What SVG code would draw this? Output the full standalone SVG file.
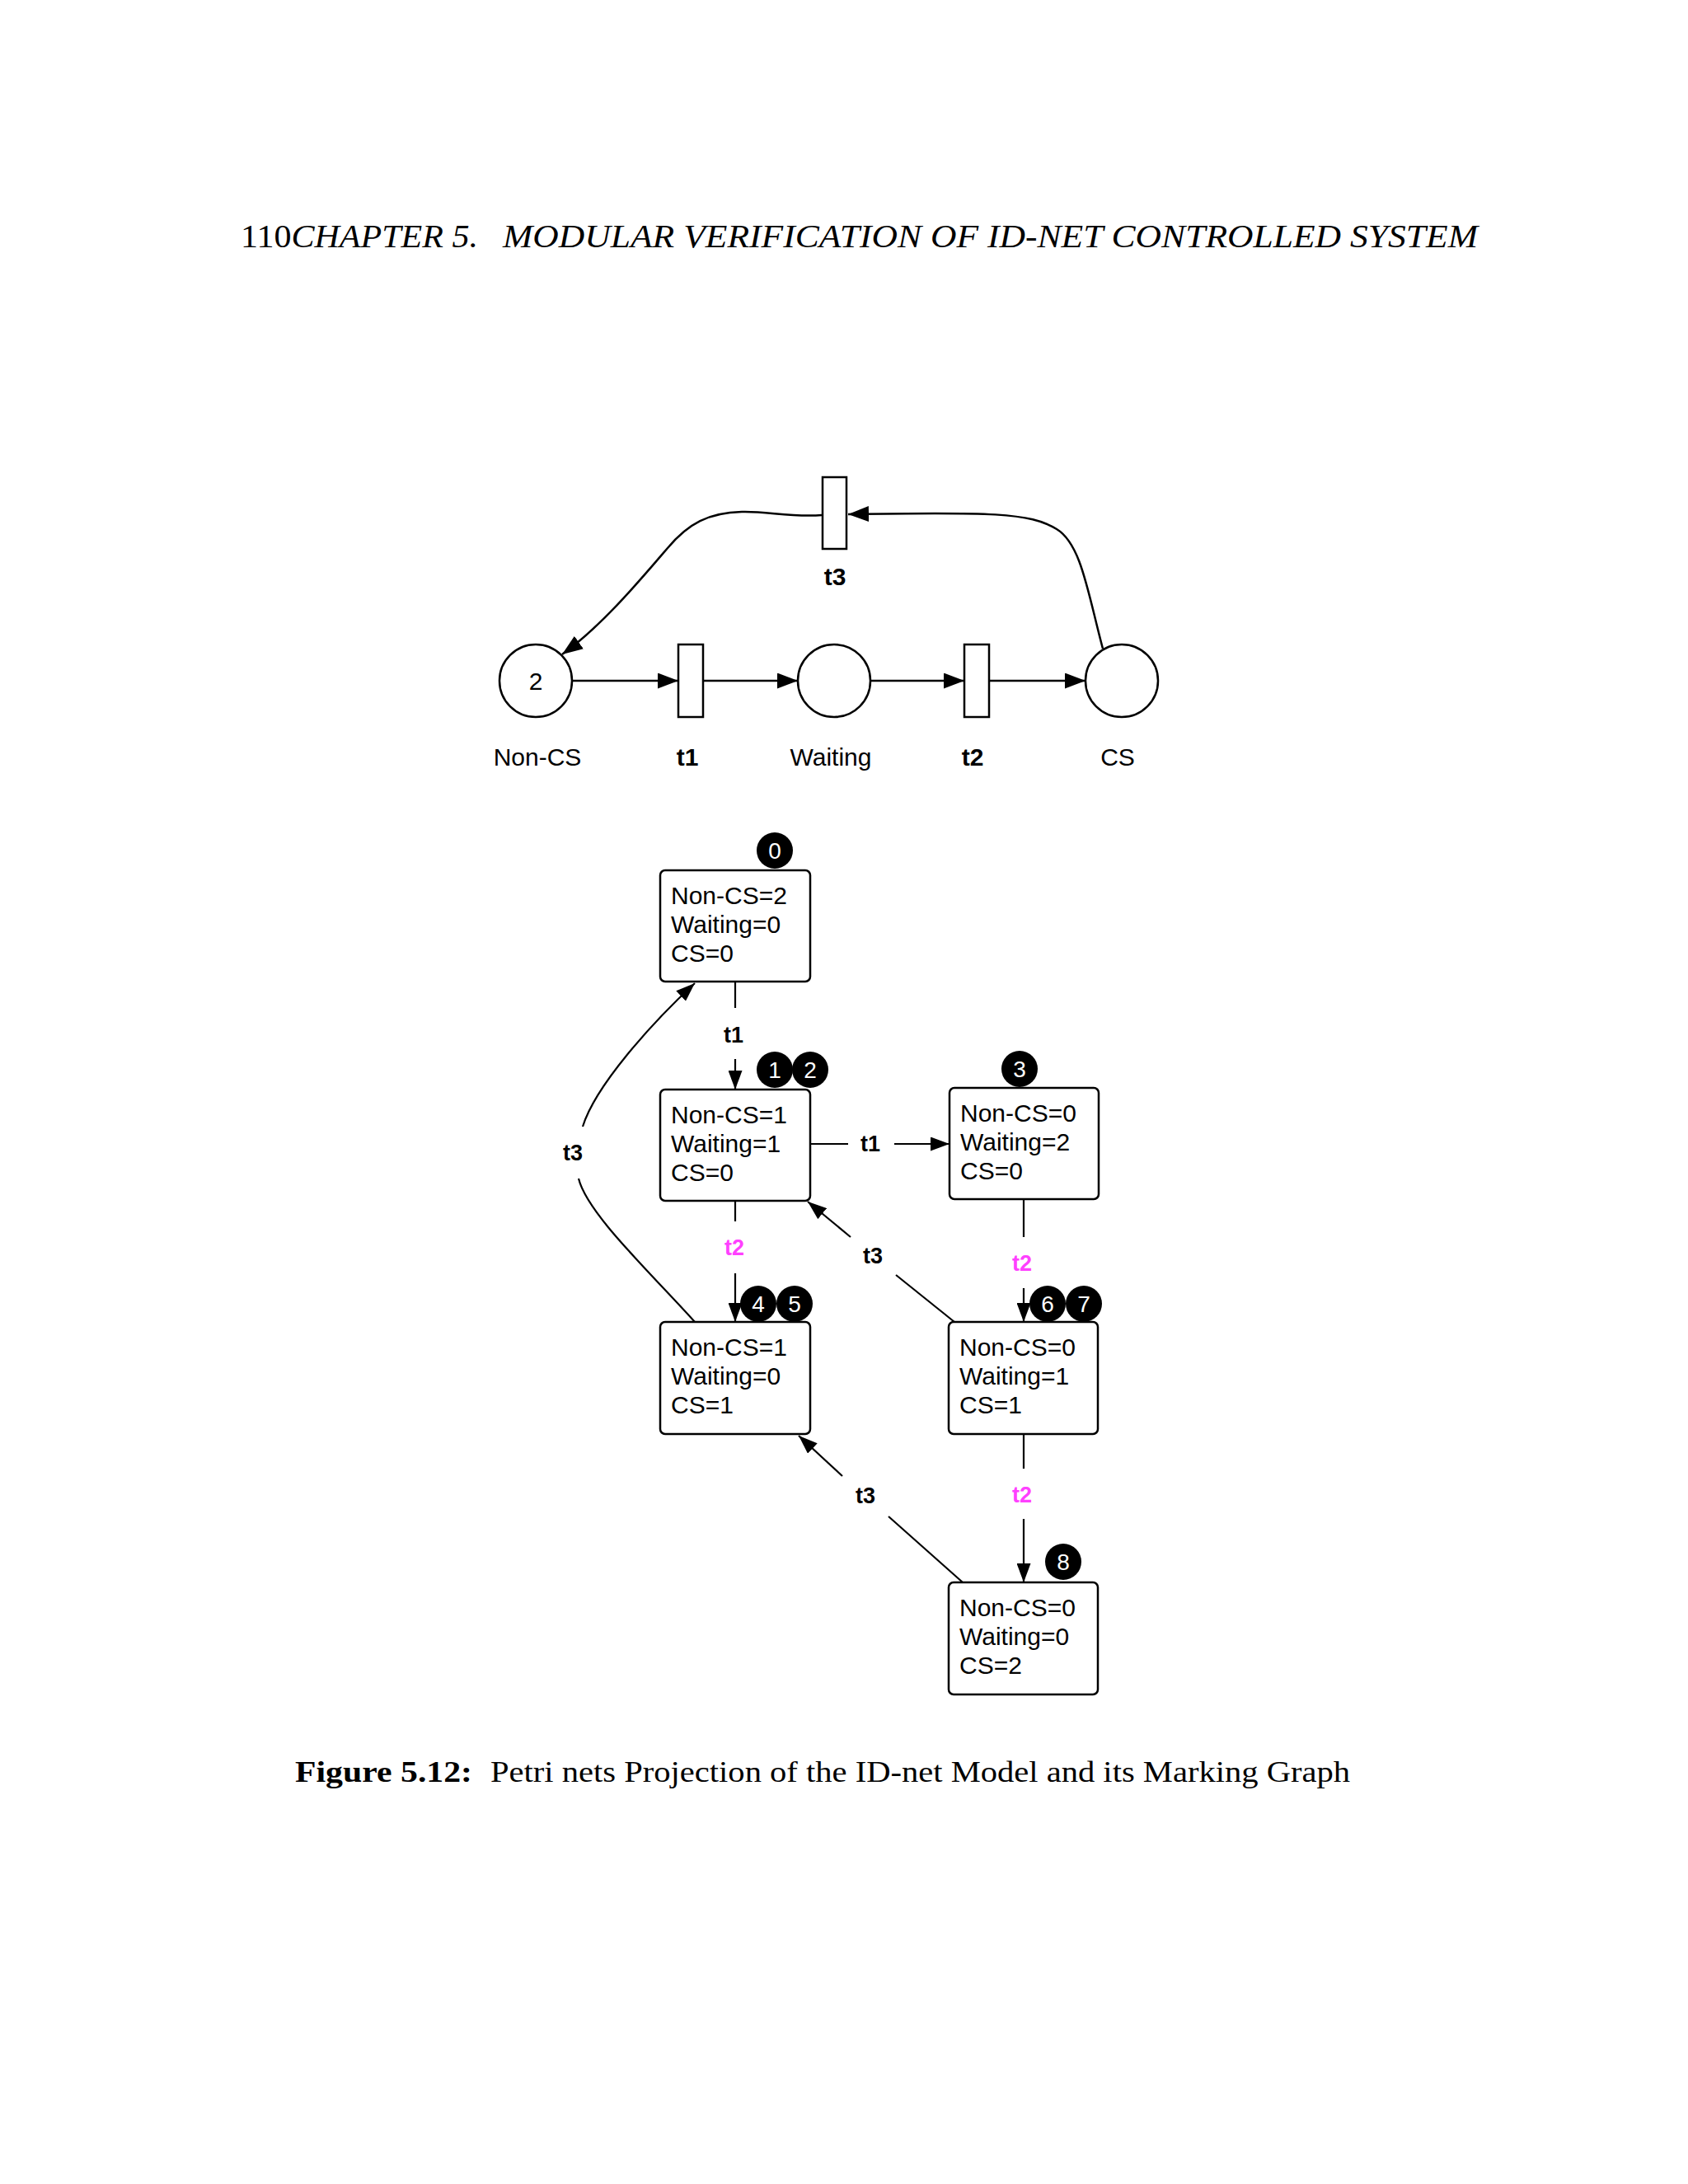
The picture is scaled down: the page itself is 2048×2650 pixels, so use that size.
<svg xmlns="http://www.w3.org/2000/svg" width="2048" height="2650" viewBox="0 0 2048 2650">
<defs>
<marker id="ah" markerUnits="userSpaceOnUse" markerWidth="26" markerHeight="19" refX="25" refY="9.5" orient="auto">
<path d="M0,0 L25,9.5 L0,19 z" fill="#000"/>
</marker>
<marker id="ah2" markerUnits="userSpaceOnUse" markerWidth="24" markerHeight="17" refX="23" refY="8.5" orient="auto">
<path d="M0,0 L23,8.5 L0,17 z" fill="#000"/>
</marker>
<style>
.sh{fill:#fff;stroke:#000;stroke-width:2.5}
.ln{fill:none;stroke:#000;stroke-width:2.5}
.lg{fill:none;stroke:#000;stroke-width:2.2}
.lbl{font-family:"Liberation Sans",Arial,sans-serif;font-size:30px;fill:#000}
.tl{font-family:"Liberation Sans",Arial,sans-serif;font-size:30px;font-weight:bold;fill:#000;text-anchor:middle}
.tg{font-family:"Liberation Sans",Arial,sans-serif;font-size:27px;font-weight:bold;fill:#000;text-anchor:middle}
.mg{fill:#ff40ff}
.box{fill:#fff;stroke:#000;stroke-width:2.5}
.bt{font-family:"Liberation Sans",Arial,sans-serif;font-size:30px;fill:#000}
.bd{fill:#000}
.bn{font-family:"Liberation Sans",Arial,sans-serif;font-size:28px;fill:#fff;text-anchor:middle}
.serif{font-family:"Liberation Serif","Times New Roman",serif;fill:#000}
</style>
</defs>
<rect width="2048" height="2650" fill="#fff"/>

<g id="header" class="serif" font-size="39">
<text x="292" y="300" textLength="288" lengthAdjust="spacingAndGlyphs">110<tspan font-style="italic">CHAPTER 5.</tspan></text>
<text x="610" y="300" font-style="italic" textLength="1183" lengthAdjust="spacingAndGlyphs">MODULAR VERIFICATION OF ID-NET CONTROLLED SYSTEM</text>
</g>

<!-- Petri net -->
<g id="connectors-net">
<path class="ln" d="M694,826 L823,826" marker-end="url(#ah)"/>
<path class="ln" d="M853,826 L968,826" marker-end="url(#ah)"/>
<path class="ln" d="M1056,826 L1170,826" marker-end="url(#ah)"/>
<path class="ln" d="M1200,826 L1317,826" marker-end="url(#ah)"/>
<path class="ln" d="M1338,787 C1320,720 1312,660 1282,642 C1250,622 1200,621 1029,624" marker-end="url(#ah)"/>
<path class="ln" d="M997,625 C960,628 930,620 900,621 C860,622 835,635 810,665 C780,700 730,760 682,794" marker-end="url(#ah)"/>
</g>
<g id="p-noncs"><circle class="sh" cx="650" cy="826" r="44"/><text class="lbl" x="650" y="837" text-anchor="middle">2</text><text class="lbl" x="652" y="929" text-anchor="middle">Non-CS</text></g>
<g id="t-t1"><rect class="sh" x="823" y="782" width="30" height="88"/><text class="tl" x="834" y="929">t1</text></g>
<g id="p-waiting"><circle class="sh" cx="1012" cy="826" r="44"/><text class="lbl" x="1008" y="929" text-anchor="middle">Waiting</text></g>
<g id="t-t2"><rect class="sh" x="1170" y="782" width="30" height="88"/><text class="tl" x="1180" y="929">t2</text></g>
<g id="p-cs"><circle class="sh" cx="1361" cy="826" r="44"/><text class="lbl" x="1356" y="929" text-anchor="middle">CS</text></g>
<g id="t-t3"><rect class="sh" x="998" y="579" width="29" height="87"/><text class="tl" x="1013" y="710">t3</text></g>

<!-- Marking graph -->
<g id="connectors-graph">
<path class="lg" d="M892,1191 L892,1223"/>
<path class="lg" d="M892,1285 L892,1322" marker-end="url(#ah2)"/>
<text class="tg" x="890" y="1265">t1</text>
<path class="lg" d="M983,1388 L1029,1388"/>
<path class="lg" d="M1085,1388 L1152,1388" marker-end="url(#ah2)"/>
<text class="tg" x="1056" y="1397">t1</text>
<path class="lg" d="M892,1457 L892,1482"/>
<path class="lg" d="M892,1545 L892,1604" marker-end="url(#ah2)"/>
<text class="tg mg" x="891" y="1523">t2</text>
<path class="lg" d="M1242,1455 L1242,1501"/>
<path class="lg" d="M1242,1563 L1242,1604" marker-end="url(#ah2)"/>
<text class="tg mg" x="1240" y="1542">t2</text>
<path class="lg" d="M1158,1604 L1087,1547"/>
<path class="lg" d="M1032,1501 L980,1458" marker-end="url(#ah2)"/>
<text class="tg" x="1059" y="1533">t3</text>
<path class="lg" d="M1168,1920 L1078,1840"/>
<path class="lg" d="M1022,1791 L969,1742" marker-end="url(#ah2)"/>
<text class="tg" x="1050" y="1824">t3</text>
<path class="lg" d="M1242,1740 L1242,1782"/>
<path class="lg" d="M1242,1843 L1242,1920" marker-end="url(#ah2)"/>
<text class="tg mg" x="1240" y="1823">t2</text>
<path class="lg" d="M843,1604 C790,1545 712,1472 702,1430"/>
<path class="lg" d="M707,1367 C722,1318 790,1242 843,1193" marker-end="url(#ah2)"/>
<text class="tg" x="695" y="1408">t3</text>
</g>

<g id="m0">
<rect class="box" x="801" y="1056" width="182" height="135" rx="6"/>
<text class="bt" x="814" y="1097">Non-CS=2</text><text class="bt" x="814" y="1132">Waiting=0</text><text class="bt" x="814" y="1167">CS=0</text>
<circle class="bd" cx="940" cy="1032" r="22"/><text class="bn" x="940" y="1042">0</text>
</g>
<g id="m12">
<rect class="box" x="801" y="1322" width="182" height="135" rx="6"/>
<text class="bt" x="814" y="1363">Non-CS=1</text><text class="bt" x="814" y="1398">Waiting=1</text><text class="bt" x="814" y="1433">CS=0</text>
<circle class="bd" cx="940" cy="1298" r="22"/><text class="bn" x="940" y="1308">1</text>
<circle class="bd" cx="983" cy="1298" r="22"/><text class="bn" x="983" y="1308">2</text>
</g>
<g id="m3">
<rect class="box" x="1152" y="1320" width="181" height="135" rx="6" stroke-width="5"/>
<text class="bt" x="1165" y="1361">Non-CS=0</text><text class="bt" x="1165" y="1396">Waiting=2</text><text class="bt" x="1165" y="1431">CS=0</text>
<circle class="bd" cx="1237" cy="1297" r="22"/><text class="bn" x="1237" y="1307">3</text>
</g>
<g id="m45">
<rect class="box" x="801" y="1604" width="182" height="136" rx="6"/>
<text class="bt" x="814" y="1645">Non-CS=1</text><text class="bt" x="814" y="1680">Waiting=0</text><text class="bt" x="814" y="1715">CS=1</text>
<circle class="bd" cx="920" cy="1582" r="22"/><text class="bn" x="920" y="1592">4</text>
<circle class="bd" cx="964" cy="1582" r="22"/><text class="bn" x="964" y="1592">5</text>
</g>
<g id="m67">
<rect class="box" x="1151" y="1604" width="181" height="136" rx="6"/>
<text class="bt" x="1164" y="1645">Non-CS=0</text><text class="bt" x="1164" y="1680">Waiting=1</text><text class="bt" x="1164" y="1715">CS=1</text>
<circle class="bd" cx="1271" cy="1582" r="22"/><text class="bn" x="1271" y="1592">6</text>
<circle class="bd" cx="1315" cy="1582" r="22"/><text class="bn" x="1315" y="1592">7</text>
</g>
<g id="m8">
<rect class="box" x="1151" y="1920" width="181" height="136" rx="6"/>
<text class="bt" x="1164" y="1961">Non-CS=0</text><text class="bt" x="1164" y="1996">Waiting=0</text><text class="bt" x="1164" y="2031">CS=2</text>
<circle class="bd" cx="1290" cy="1895" r="22"/><text class="bn" x="1290" y="1905">8</text>
</g>

<g id="caption" class="serif" font-size="36">
<text x="358" y="2162" font-weight="bold" textLength="215" lengthAdjust="spacingAndGlyphs">Figure 5.12:</text>
<text x="595" y="2162" textLength="1043" lengthAdjust="spacingAndGlyphs">Petri nets Projection of the ID-net Model and its Marking Graph</text>
</g>
</svg>
